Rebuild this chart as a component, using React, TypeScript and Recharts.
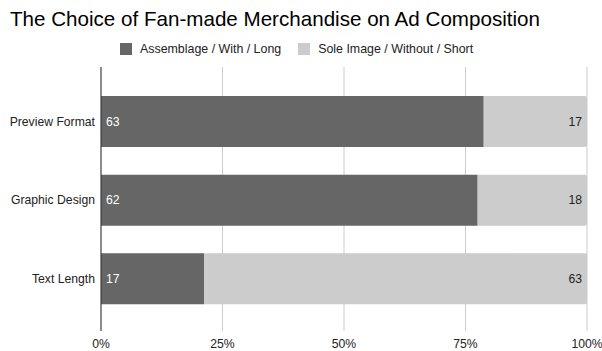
import React from 'react';
import {
  BarChart,
  Bar,
  XAxis,
  YAxis,
  CartesianGrid,
  LabelList
} from 'recharts';

const categories = ['Preview Format', 'Graphic Design', 'Text Length'];
const withValues = [63, 62, 17];
const withoutValues = [17, 18, 63];
const seriesNames = ['Assemblage / With / Long', 'Sole Image / Without / Short'];
const xTicks = [0, 0.25, 0.5, 0.75, 1];

const COLORS = ['#666666', '#cccccc'];
const FONT = '"Liberation Sans", Arial, sans-serif';

const data = categories.map((name, i) => ({
  name,
  with: withValues[i],
  without: withoutValues[i]
}));

const CategoryTick = (props: any) => {
  const { x, y, payload } = props;
  return (
    <text x={x} y={y} dy="0.355em" textAnchor="end" fontSize={12.2} fill="#222" fontFamily={FONT}>
      {payload.value}
    </text>
  );
};

const App = () => {
  return (
    <div style={{ position: 'absolute', left: 0, top: 0, width: 602, height: 351, background: '#fff', fontFamily: FONT }}>
      <div style={{ position: 'absolute', left: 10, top: 7, fontSize: 20.6, color: '#000', whiteSpace: 'nowrap' }}>
        The Choice of Fan-made Merchandise on Ad Composition
      </div>
      <div style={{ position: 'absolute', left: 120, top: 42, display: 'flex', fontSize: 12.4, color: '#222' }}>
        {seriesNames.map((s, i) => (
          <div key={s} style={{ display: 'flex', alignItems: 'center', marginRight: 17 }}>
            <span style={{ width: 12, height: 12, background: COLORS[i], display: 'inline-block', marginRight: 8 }} />
            <span>{s}</span>
          </div>
        ))}
      </div>
      <div style={{ position: 'absolute', left: 0, top: 0 }}>
        <BarChart
          width={602}
          height={351}
          data={data}
          layout="vertical"
          stackOffset="expand"
          margin={{ top: 67, right: 15, bottom: 0, left: 0 }}
        >
          <CartesianGrid horizontal={false} stroke="#cccccc" />
          <XAxis
            type="number"
            domain={[0, 1]}
            ticks={xTicks}
            tickFormatter={(v: number) => `${Math.round(v * 100)}%`}
            axisLine={false}
            tickLine={false}
            height={20}
            tick={{ fontSize: 12.2, fill: '#222', fontFamily: FONT }}
          />
          <YAxis
            type="category"
            dataKey="name"
            width={101}
            axisLine={{ stroke: '#333333' }}
            tickLine={false}
            tickSize={4}
            padding={{ top: 15, bottom: 13 }}
            tick={<CategoryTick />}
          />
          <Bar dataKey="with" stackId="a" fill={COLORS[0]} barSize={51} isAnimationActive={false}>
            <LabelList dataKey="with" position="insideLeft" fill="#ffffff" fontSize={12.2} fontFamily={FONT} />
          </Bar>
          <Bar dataKey="without" stackId="a" fill={COLORS[1]} barSize={51} radius={[0, 2, 2, 0]} isAnimationActive={false}>
            <LabelList dataKey="without" position="insideRight" fill="#222" fontSize={12.2} fontFamily={FONT} />
          </Bar>
        </BarChart>
      </div>
    </div>
  );
};

export default App;
